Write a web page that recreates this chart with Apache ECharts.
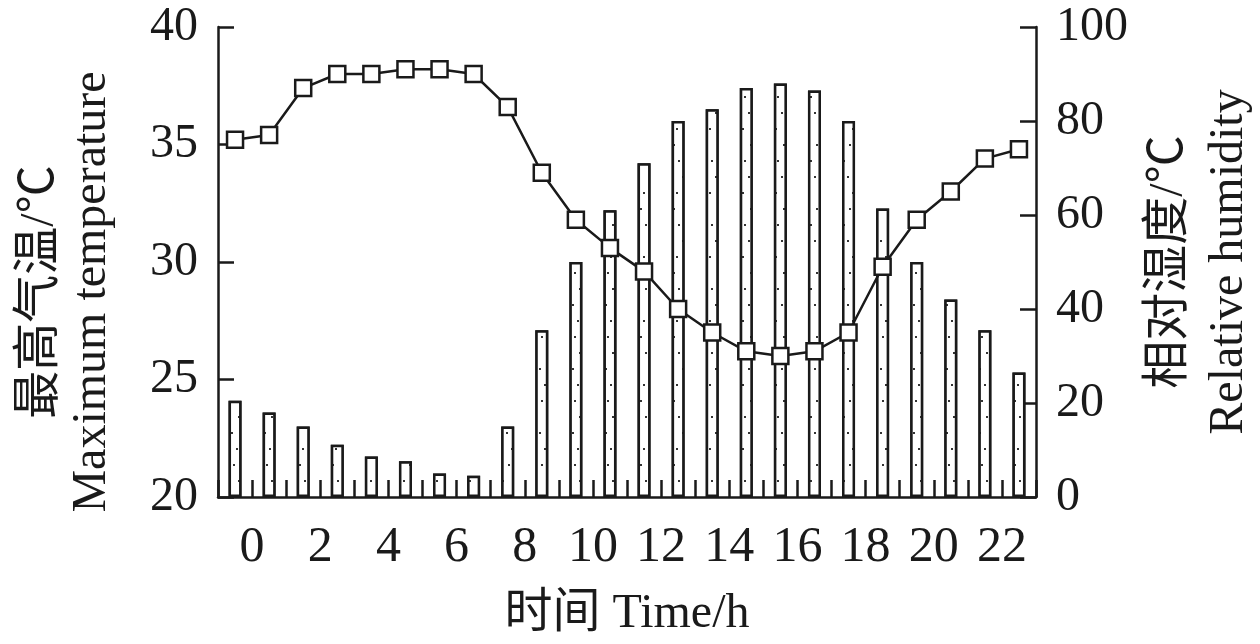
<!DOCTYPE html>
<html>
<head>
<meta charset="utf-8">
<script src="https://cdn.jsdelivr.net/npm/echarts@6/dist/echarts.min.js"></script>
<style>
html,body{margin:0;padding:0;background:#fff;}
#chart{width:1260px;height:644px;}
</style>
</head>
<body>
<div id="chart"></div>
<script>
// Bar / point positions on the time axis (h)
const hourPositions = [-0.5, 0.5, 1.5, 2.5, 3.5, 4.5, 5.5, 6.5, 7.5, 8.5, 9.5, 10.5,
                       11.5, 12.5, 13.5, 14.5, 15.5, 16.5, 17.5, 18.5, 19.5, 20.5, 21.5, 22.5];
// Tick labels shown on the time axis
const timeTickLabels = [0, 2, 4, 6, 8, 10, 12, 14, 16, 18, 20, 22];
// Maximum temperature (left axis, °C)
const maxTemperature = [35.2, 35.4, 37.4, 38.0, 38.0, 38.2, 38.2, 38.0, 36.6, 33.8, 31.8, 30.6,
                        29.6, 28.0, 27.0, 26.2, 26.0, 26.2, 27.0, 29.8, 31.8, 33.0, 34.4, 34.8];
// Relative humidity (right axis)
const relativeHumidity = [20.5, 18.0, 15.0, 11.1, 8.6, 7.6, 5.0, 4.5, 15.0, 35.5, 50.0, 61.0,
                          71.0, 80.0, 82.5, 87.0, 88.0, 86.5, 80.0, 61.4, 50.0, 42.0, 35.5, 26.5];

const FONT = "'Liberation Serif','Times New Roman','Noto Sans CJK SC',serif";
const INK = '#1a1a1a';

const chart = echarts.init(document.getElementById('chart'), null, {renderer: 'canvas'});

const axisLineStyle = {color: INK, width: 2.5};

const option = {
  animation: false,
  backgroundColor: '#fff',
  grid: {left: 218, right: 224, top: 27, bottom: 147, containLabel: false, outerBoundsMode: 'none'},
  xAxis: {
    type: 'value',
    min: -1,
    max: 23,
    interval: 1,
    axisLine: {show: true, onZero: false, lineStyle: axisLineStyle},
    axisTick: {show: true, inside: true, length: 17, lineStyle: axisLineStyle},
    splitLine: {show: false},
    axisLabel: {
      margin: 26,
      fontSize: 50,
      fontFamily: FONT,
      color: INK,
      formatter: v => timeTickLabels.includes(v) ? String(v) : ''
    },
    name: '时间 Time/h',
    nameLocation: 'middle',
    nameGap: 93,
    nameTextStyle: {fontSize: 48, fontFamily: FONT, color: INK}
  },
  yAxis: [
    {
      type: 'value',
      position: 'left',
      min: 20,
      max: 40,
      interval: 5,
      axisLine: {show: true, onZero: false, lineStyle: axisLineStyle},
      axisTick: {show: true, inside: true, length: 16, lineStyle: axisLineStyle},
      splitLine: {show: false},
      axisLabel: {margin: 20, fontSize: 48, fontFamily: FONT, color: INK},
      name: '最高气温/℃\nMaximum temperature',
      nameLocation: 'middle',
      nameRotate: 90,
      nameGap: 100,
      nameTextStyle: {fontSize: 48, fontFamily: FONT, color: INK, lineHeight: 52, padding: [0, 60, 0, 0]}
    },
    {
      type: 'value',
      position: 'right',
      min: 0,
      max: 100,
      interval: 20,
      axisLine: {show: true, onZero: false, lineStyle: axisLineStyle},
      axisTick: {show: true, inside: true, length: 16, lineStyle: axisLineStyle},
      splitLine: {show: false},
      axisLabel: {margin: 20, fontSize: 48, fontFamily: FONT, color: INK},
      name: '相对湿度/℃\nRelative humidity',
      nameLocation: 'middle',
      nameRotate: 90,
      nameGap: 100,
      nameTextStyle: {fontSize: 48, fontFamily: FONT, color: INK, lineHeight: 60}
    }
  ],
  series: [
    {
      type: 'bar',
      yAxisIndex: 1,
      barWidth: 13,
      data: hourPositions.map((x, i) => [x, relativeHumidity[i]]),
      itemStyle: {
        color: '#fff',
        borderColor: INK,
        borderWidth: 2.5,
        decal: {
          symbol: 'rect',
          symbolSize: 1,
          color: '#333',
          backgroundColor: '#fff',
          dashArrayX: [[2, 9], [0, 5, 2, 4], [0, 2, 2, 7], [0, 7, 2, 2]],
          dashArrayY: [2, 14],
          rotation: 0
        }
      }
    },
    {
      type: 'line',
      yAxisIndex: 0,
      data: hourPositions.map((x, i) => [x, maxTemperature[i]]),
      symbol: 'rect',
      symbolSize: 16,
      lineStyle: {color: INK, width: 2.5},
      itemStyle: {color: '#fff', borderColor: INK, borderWidth: 2.5}
    }
  ]
};

chart.setOption(option);
</script>
</body>
</html>
